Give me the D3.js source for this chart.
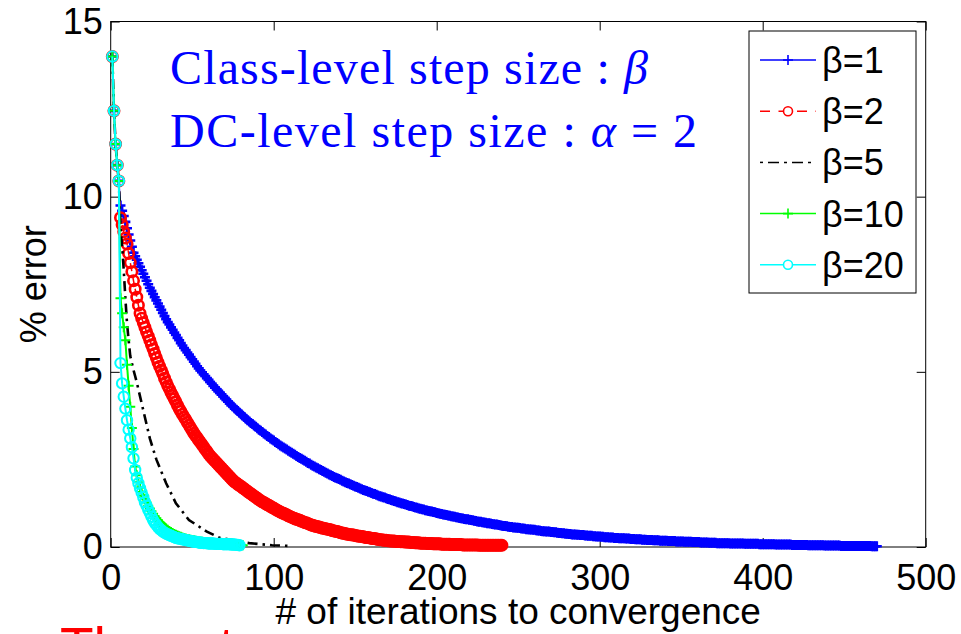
<!DOCTYPE html>
<html>
<head>
<meta charset="utf-8">
<script src="https://cdn.jsdelivr.net/npm/d3@7"></script>
<style>
    body { margin: 0; background: #fff; }
    svg { display: block; }
</style>
</head>
<body>
<svg id="chart"></svg>
<script>
(function(){
    "use strict";

    // % error after each iteration (first entry is iteration 1)
    const beta1 = [
        14, 12.45, 11.5, 10.9, 10.45, 9.75, 9.6, 9.45, 9.28, 9.1, 8.92, 8.75, 8.57, 8.40,
        8.30, 8.20, 8.10, 8.00, 7.90, 7.80, 7.70, 7.60, 7.50, 7.40,
        7.31, 7.22, 7.13, 7.04, 6.95, 6.86, 6.77, 6.68, 6.59, 6.50,
        6.42, 6.35, 6.27, 6.20, 6.12, 6.05, 5.97, 5.90, 5.82, 5.75,
        5.68, 5.62, 5.55, 5.49, 5.42, 5.36, 5.29, 5.23, 5.16, 5.10,
        5.04, 4.99, 4.93, 4.88, 4.82, 4.77, 4.71, 4.66, 4.60, 4.55,
        4.50, 4.45, 4.40, 4.35, 4.30, 4.25, 4.20, 4.15, 4.10, 4.05,
        4.01, 3.96, 3.92, 3.88, 3.83, 3.79, 3.75, 3.71, 3.66, 3.62,
        3.58, 3.54, 3.51, 3.47, 3.43, 3.39, 3.35, 3.32, 3.28, 3.24,
        3.21, 3.17, 3.14, 3.10, 3.07, 3.04, 3.00, 2.97, 2.93, 2.90,
        2.87, 2.84, 2.81, 2.78, 2.75, 2.72, 2.69, 2.66, 2.63, 2.60,
        2.57, 2.54, 2.52, 2.49, 2.46, 2.43, 2.40, 2.38, 2.35, 2.32,
        2.30, 2.27, 2.25, 2.22, 2.20, 2.17, 2.15, 2.12, 2.10, 2.07,
        2.05, 2.03, 2.00, 1.98, 1.96, 1.94, 1.92, 1.89, 1.87, 1.85,
        1.83, 1.81, 1.79, 1.77, 1.75, 1.73, 1.71, 1.69, 1.67, 1.65,
        1.63, 1.61, 1.60, 1.58, 1.56, 1.54, 1.52, 1.51, 1.49, 1.47,
        1.45, 1.44, 1.42, 1.41, 1.39, 1.37, 1.36, 1.34, 1.33, 1.31,
        1.30, 1.28, 1.27, 1.25, 1.24, 1.23, 1.21, 1.20, 1.18, 1.17,
        1.16, 1.14, 1.13, 1.12, 1.10, 1.09, 1.08, 1.07, 1.05, 1.04,
        1.03, 1.02, 1.01, 1.00, 0.99, 0.97, 0.96, 0.95, 0.94, 0.93,
        0.92, 0.91, 0.90, 0.89, 0.88, 0.87, 0.86, 0.85, 0.84, 0.83,
        0.82, 0.81, 0.80, 0.79, 0.79, 0.78, 0.77, 0.76, 0.75, 0.74,
        0.73, 0.72, 0.72, 0.71, 0.70, 0.69, 0.68, 0.68, 0.67, 0.66,
        0.65, 0.64, 0.64, 0.63, 0.62, 0.61, 0.60, 0.60, 0.59, 0.58,
        0.57, 0.57, 0.56, 0.56, 0.55, 0.55, 0.54, 0.53, 0.53, 0.52,
        0.51, 0.51, 0.50, 0.50, 0.49, 0.49, 0.48, 0.47, 0.47, 0.46,
        0.45, 0.45, 0.44, 0.44, 0.44, 0.43, 0.43, 0.42, 0.42, 0.41,
        0.40, 0.40, 0.39, 0.39, 0.38, 0.38, 0.37, 0.37, 0.36, 0.36,
        0.36, 0.35, 0.35, 0.34, 0.34, 0.34, 0.33, 0.33, 0.32, 0.32,
        0.32, 0.31, 0.31, 0.30, 0.30, 0.30, 0.29, 0.29, 0.28, 0.28,
        0.28, 0.27, 0.27, 0.27, 0.26, 0.26, 0.26, 0.25, 0.25, 0.25,
        0.25, 0.24, 0.24, 0.24, 0.23, 0.23, 0.23, 0.22, 0.22, 0.22,
        0.22, 0.21, 0.21, 0.21, 0.20, 0.20, 0.20, 0.20, 0.19, 0.19,
        0.19, 0.19, 0.18, 0.18, 0.18, 0.18, 0.18, 0.17, 0.17, 0.17,
        0.17, 0.17, 0.16, 0.16, 0.16, 0.16, 0.16, 0.15, 0.15, 0.15,
        0.15, 0.15, 0.14, 0.14, 0.14, 0.14, 0.14, 0.13, 0.13, 0.13,
        0.13, 0.13, 0.12, 0.12, 0.12, 0.12, 0.12, 0.11, 0.11, 0.11,
        0.11, 0.11, 0.11, 0.11, 0.11, 0.10, 0.10, 0.10, 0.10, 0.10,
        0.10, 0.10, 0.10, 0.10, 0.09, 0.09, 0.09, 0.09, 0.09, 0.09,
        0.09, 0.09, 0.09, 0.08, 0.08, 0.08, 0.08, 0.08, 0.08, 0.08,
        0.08, 0.08, 0.08, 0.07, 0.07, 0.07, 0.07, 0.07, 0.07, 0.07,
        0.07, 0.07, 0.07, 0.06, 0.06, 0.06, 0.06, 0.06, 0.06, 0.06,
        0.06, 0.06, 0.06, 0.05, 0.05, 0.05, 0.05, 0.05, 0.05, 0.05,
        0.05, 0.05, 0.05, 0.04, 0.04, 0.04, 0.04, 0.04, 0.04, 0.04,
        0.04, 0.04, 0.04, 0.03, 0.03, 0.03, 0.03, 0.03, 0.03, 0.03,
        0.03, 0.03, 0.03, 0.03, 0.03, 0.03, 0.03, 0.03, 0.03, 0.03,
        0.03, 0.03, 0.02, 0.02, 0.02, 0.02
    ];

    const beta2 = [
        14, 12.45, 11.5, 10.9, 10.45,
        9.40, 9.20, 9.00, 8.82, 8.65,
        8.38, 8.12, 7.86, 7.60,
        7.36, 7.13, 6.90, 6.67,
        6.53, 6.40, 6.27, 6.14, 6.02, 5.90,
        5.77, 5.65, 5.52, 5.40, 5.27,
        5.16, 5.05, 4.94, 4.82, 4.71, 4.60,
        4.51, 4.41, 4.32, 4.23, 4.14, 4.04, 3.95,
        3.87, 3.79, 3.71, 3.64, 3.56, 3.48, 3.40, 3.33, 3.25,
        3.18, 3.12, 3.05, 2.99, 2.92, 2.86, 2.79, 2.73, 2.66, 2.60,
        2.55, 2.50, 2.45, 2.40, 2.35, 2.30, 2.25, 2.20, 2.15, 2.10, 2.05, 2.00, 1.95, 1.90,
        1.86, 1.83, 1.79, 1.76, 1.73, 1.69, 1.66, 1.62, 1.59, 1.55, 1.52, 1.49, 1.45, 1.42, 1.39, 1.35, 1.32,
        1.29, 1.27, 1.24, 1.21, 1.19, 1.16, 1.13, 1.11, 1.08, 1.05, 1.03, 1.00,
        0.98, 0.96, 0.94, 0.92, 0.89, 0.87, 0.85, 0.83,
        0.81, 0.79, 0.78, 0.76, 0.74, 0.72, 0.70, 0.69, 0.67, 0.65, 0.63, 0.62, 0.60,
        0.59, 0.58, 0.57, 0.55, 0.54, 0.53, 0.52, 0.51, 0.50, 0.49,
        0.47, 0.46, 0.45, 0.44, 0.43, 0.41, 0.40, 0.39, 0.38, 0.37,
        0.36, 0.35, 0.35, 0.34, 0.33, 0.32, 0.31, 0.31, 0.30, 0.29,
        0.28, 0.27, 0.27, 0.26, 0.25, 0.24, 0.24, 0.23, 0.22, 0.21,
        0.21, 0.20, 0.19, 0.19, 0.18,
        0.18, 0.17, 0.17, 0.17, 0.16, 0.16, 0.16, 0.15, 0.15, 0.15,
        0.14, 0.14, 0.14, 0.13, 0.13, 0.13, 0.12, 0.12, 0.12, 0.11,
        0.11, 0.11, 0.11, 0.10, 0.10, 0.10, 0.10, 0.09, 0.09, 0.09,
        0.09, 0.09, 0.08, 0.08, 0.08, 0.08, 0.08, 0.08, 0.07, 0.07,
        0.07, 0.07, 0.07, 0.07, 0.07, 0.06, 0.06, 0.06, 0.06, 0.06,
        0.06, 0.06, 0.06, 0.06, 0.06, 0.05, 0.05, 0.05, 0.05, 0.05,
        0.05, 0.05, 0.05, 0.05, 0.05, 0.05, 0.05, 0.05, 0.05, 0.05
    ];

    // beta = 5 is drawn as a plain dash-dot line, read at these iterations
    const beta5Iter = [1, 2, 3, 4, 5, 6, 7, 8, 9, 10, 11, 12, 14, 16, 18, 20, 22, 24, 28, 34, 40, 48, 59, 67, 85, 99, 110];
    const beta5 = [14, 12.45, 11.5, 10.9, 10.45, 9.1, 8.6, 7.9, 7.1, 6.4, 5.9, 5.45, 5.05, 4.7, 4.3, 3.9, 3.5, 3.1, 2.5, 1.82, 1.25, 0.77, 0.44, 0.26, 0.11, 0.05, 0.03];

    const beta10 = [
        14, 12.45, 11.5, 10.9, 10.45,
        7.1, 6.67, 6.27, 5.9,
        5.2, 4.6, 4.0, 3.4, 2.8, 2.3,
        2.05, 1.85, 1.70, 1.57, 1.46,
        1.36, 1.27, 1.18, 1.10, 1.02, 0.95, 0.88, 0.82, 0.76, 0.71,
        0.66, 0.61, 0.57, 0.53, 0.49, 0.46, 0.43, 0.40, 0.37, 0.35,
        0.33, 0.31, 0.29, 0.27, 0.26, 0.24, 0.23, 0.22, 0.21, 0.20,
        0.19, 0.18, 0.17, 0.16, 0.16, 0.15, 0.14, 0.14, 0.13, 0.13,
        0.12, 0.12, 0.11, 0.11, 0.10, 0.10, 0.10, 0.09, 0.09, 0.09,
        0.08, 0.08, 0.08, 0.07, 0.07, 0.07, 0.07, 0.06, 0.06, 0.06, 0.05
    ];

    const beta20 = [
        14, 12.45, 11.5, 10.9, 10.45,
        5.25, 4.67, 4.29, 3.95, 3.62, 3.35, 3.10, 2.85, 2.53, 2.20,
        1.98, 1.82, 1.68, 1.55, 1.42, 1.28, 1.18, 1.07, 0.97, 0.87,
        0.77, 0.69, 0.63, 0.57, 0.52, 0.48, 0.44, 0.41, 0.38, 0.36,
        0.34, 0.32, 0.30, 0.28, 0.26, 0.25, 0.24, 0.23, 0.22, 0.21,
        0.20, 0.19, 0.18, 0.17, 0.16, 0.15, 0.15, 0.14, 0.13, 0.12,
        0.12, 0.11, 0.11, 0.11, 0.10, 0.10, 0.10, 0.10, 0.09, 0.09,
        0.09, 0.09, 0.09, 0.08, 0.08, 0.08, 0.08, 0.08, 0.07, 0.07,
        0.07, 0.06, 0.06, 0.05
    ];

    const xTicks = [0, 100, 200, 300, 400, 500];
    const yTicks = [0, 5, 10, 15];
    const legendLabels = ["\u03b2=1", "\u03b2=2", "\u03b2=5", "\u03b2=10", "\u03b2=20"];

    const width = 961,
        height = 634;

    const svg = d3.select("svg#chart")
        .attr("width", width)
        .attr("height", height)
        .style("background", "#fff");

    const x = d3.scaleLinear().domain([0, 500]).range([110.7, 925.7]);
    const y = d3.scaleLinear().domain([0, 15]).range([547, 21.5]);

    const sans = "'Liberation Sans', Arial, Helvetica, sans-serif";
    const serif = "'Liberation Serif', 'Times New Roman', serif";

    // pair an error array with its iteration numbers
    const withIter = (vals) => vals.map((v, i) => [i + 1, v]);
    const pts5 = beta5Iter.map((it, i) => [it, beta5[i]]);

    // styles, in plotting order (last on top)
    const series = [
        { pts: withIter(beta1), color: "#0000ff", marker: "plus", size: 5, mw: 2.6, dash: null, lw: 1.5 },
        { pts: withIter(beta2), color: "#ff0000", marker: "circle", size: 5.2, mw: 2.6, dash: "8,5", lw: 1.5 },
        { pts: pts5, color: "#000000", marker: null, dash: "10,5,2.5,5", lw: 2.6 },
        { pts: withIter(beta10), color: "#00ff00", marker: "plus", size: 5, mw: 2, dash: null, lw: 2 },
        { pts: withIter(beta20), color: "#00ffff", marker: "circle", size: 5.2, mw: 2, dash: null, lw: 2 }
    ];

    // axes box, ticks pointing inwards on all four sides
    function styleAxis(g) {
        g.attr("font-family", sans).attr("font-size", 36);
        g.select(".domain").remove();
        g.selectAll(".tick line").attr("stroke", "#000").attr("stroke-width", 1);
        g.selectAll(".tick text").attr("fill", "#000");
    }

    svg.append("g")
        .attr("transform", `translate(0,${y(0)})`)
        .call(d3.axisBottom(x).tickValues(xTicks).tickSizeInner(-9).tickSizeOuter(0).tickPadding(17))
        .call(styleAxis);

    svg.append("g")
        .attr("transform", `translate(0,${y(15)})`)
        .call(d3.axisTop(x).tickValues(xTicks).tickSizeInner(-9).tickSizeOuter(0).tickFormat(""))
        .call(styleAxis);

    svg.append("g")
        .attr("transform", `translate(${x(0)},0)`)
        .call(d3.axisLeft(y).tickValues(yTicks).tickSizeInner(-9).tickSizeOuter(0).tickPadding(8))
        .call(styleAxis);

    svg.append("g")
        .attr("transform", `translate(${x(500)},0)`)
        .call(d3.axisRight(y).tickValues(yTicks).tickSizeInner(-9).tickSizeOuter(0).tickFormat(""))
        .call(styleAxis);

    svg.append("rect")
        .attr("x", x(0))
        .attr("y", y(15))
        .attr("width", x(500) - x(0))
        .attr("height", y(0) - y(15))
        .attr("fill", "none")
        .attr("stroke", "#000")
        .attr("stroke-width", 1);

    // axis titles
    svg.append("text")
        .attr("x", (x(0) + x(500)) / 2)
        .attr("y", 624)
        .attr("text-anchor", "middle")
        .attr("font-family", sans)
        .attr("font-size", 37)
        .text("# of iterations to convergence");

    svg.append("text")
        .attr("transform", `translate(46,${(y(0) + y(15)) / 2}) rotate(-90)`)
        .attr("text-anchor", "middle")
        .attr("font-family", sans)
        .attr("font-size", 36)
        .text("% error");

    // data
    const line = d3.line().x(d => x(d[0])).y(d => y(d[1]));
    const plus = (d, s) => `M${x(d[0]) - s},${y(d[1])}H${x(d[0]) + s}M${x(d[0])},${y(d[1]) - s}V${y(d[1]) + s}`;

    series.forEach(function(s) {
        const g = svg.append("g");

        g.append("path")
            .datum(s.pts)
            .attr("d", line)
            .attr("fill", "none")
            .attr("stroke", s.color)
            .attr("stroke-width", s.lw)
            .attr("stroke-dasharray", s.dash);

        if (s.marker === "plus") {
            g.selectAll("path.mk")
                .data(s.pts)
                .enter().append("path")
                .attr("class", "mk")
                .attr("d", d => plus(d, s.size))
                .attr("fill", "none")
                .attr("stroke", s.color)
                .attr("stroke-width", s.mw);
        } else if (s.marker === "circle") {
            g.selectAll("circle")
                .data(s.pts)
                .enter().append("circle")
                .attr("cx", d => x(d[0]))
                .attr("cy", d => y(d[1]))
                .attr("r", s.size)
                .attr("fill", "none")
                .attr("stroke", s.color)
                .attr("stroke-width", s.mw);
        }
    });

    // annotation
    const note = svg.append("g")
        .attr("font-family", serif)
        .attr("font-size", 48)
        .attr("fill", "#0000ff");

    const n1 = note.append("text")
        .attr("x", 170).attr("y", 84)
        .attr("textLength", 478).attr("lengthAdjust", "spacing");
    n1.append("tspan").text("Class-level step size : ");
    n1.append("tspan").attr("font-style", "italic").text("\u03b2");

    const n2 = note.append("text")
        .attr("x", 170).attr("y", 147)
        .attr("textLength", 527).attr("lengthAdjust", "spacing");
    n2.append("tspan").text("DC-level step size : ");
    n2.append("tspan").attr("font-style", "italic").text("\u03b1");
    n2.append("tspan").text(" = 2");

    // legend
    const legend = svg.append("g");

    legend.append("rect")
        .attr("x", 749).attr("y", 31)
        .attr("width", 167).attr("height", 262)
        .attr("fill", "#fff")
        .attr("stroke", "#000")
        .attr("stroke-width", 1);

    const rows = legend.selectAll("g.row")
        .data(series)
        .enter().append("g")
        .attr("class", "row")
        .attr("transform", (d, i) => `translate(0,${60 + i * 51.2})`);

    rows.append("line")
        .attr("x1", 760).attr("x2", 816)
        .attr("stroke", d => d.color)
        .attr("stroke-width", 1.5)
        .attr("stroke-dasharray", (d, i) => i === 1 ? "10,8.5" : (i === 2 ? "3,5,11,5" : null));

    rows.filter(d => d.marker === "plus").append("path")
        .attr("d", "M783,0H793M788,-5V5")
        .attr("stroke", d => d.color)
        .attr("stroke-width", 1.6);

    rows.filter(d => d.marker === "circle").append("circle")
        .attr("cx", 788).attr("r", 4.5)
        .attr("fill", "#fff")
        .attr("stroke", d => d.color)
        .attr("stroke-width", 1.6);

    rows.append("text")
        .attr("x", 822)
        .attr("y", 13)
        .attr("font-family", sans)
        .attr("font-size", 36)
        .text((d, i) => legendLabels[i]);

    // slide text cut off at the bottom edge
    svg.append("text")
        .attr("x", 60)
        .attr("y", 666)
        .attr("font-family", sans)
        .attr("font-size", 55)
        .attr("fill", "#ff0000")
        .text("The rate");
})();
</script>
</body>
</html>
